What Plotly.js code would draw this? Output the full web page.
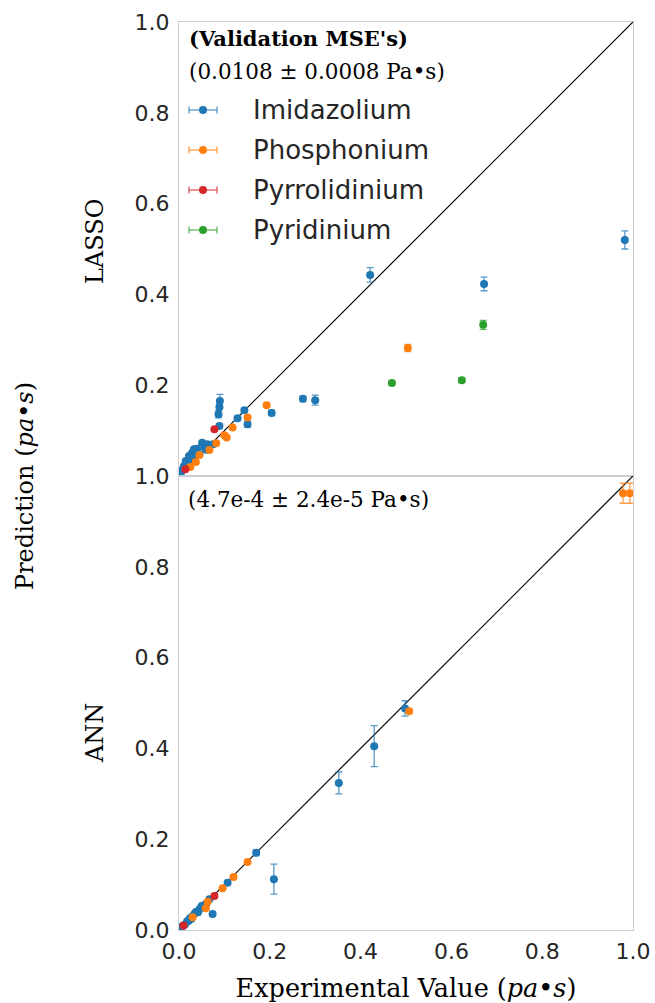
<!DOCTYPE html>
<html><head><meta charset="utf-8">
<script src="https://cdn.plot.ly/plotly-3.0.1.min.js"></script>
<style>html,body{margin:0;padding:0;background:#fff;}</style>
</head><body>
<div id="chart" style="width:655px;height:1003px;"></div>
<script>
// ---------- DATA ----------
const classNames = ["Imidazolium", "Phosphonium", "Pyrrolidinium", "Pyridinium"];
const classColors = ["#1f77b4", "#ff7f0e", "#d62728", "#2ca02c"];
const errColors = ["rgba(31,119,180,0.75)", "rgba(255,127,14,0.75)", "rgba(214,39,40,0.75)", "rgba(44,160,44,0.75)"];

// LASSO panel
const lassoImidX = [0.982, 0.672, 0.421, 0.273, 0.300, 0.204, 0.151, 0.144, 0.129, 0.090, 0.089, 0.087, 0.089,
  0.051, 0.062, 0.075, 0.057, 0.040, 0.033, 0.029, 0.022, 0.015, 0.011, 0.007, 0.004, 0.020, 0.030, 0.045, 0.060, 0.036, 0.026, 0.017];
const lassoImidY = [0.520, 0.423, 0.443, 0.170, 0.167, 0.139, 0.114, 0.145, 0.127, 0.165, 0.152, 0.136, 0.110,
  0.073, 0.070, 0.070, 0.062, 0.060, 0.059, 0.051, 0.044, 0.033, 0.022, 0.013, 0.007, 0.025, 0.035, 0.048, 0.058, 0.047, 0.040, 0.030];
const lassoImidE = [0.020, 0.015, 0.016, 0.006, 0.011, 0.006, 0.007, 0.005, 0.005, 0.015, 0.006, 0.008, 0.005,
  0.003, 0.003, 0.003, 0.003, 0.003, 0.003, 0.003, 0.002, 0.002, 0.002, 0.002, 0.002, 0.002, 0.002, 0.002, 0.003, 0.002, 0.002, 0.002];

const lassoPhosX = [0.504, 0.193, 0.151, 0.118, 0.100, 0.082, 0.067, 0.045, 0.037, 0.025, 0.105];
const lassoPhosY = [0.282, 0.156, 0.129, 0.107, 0.090, 0.072, 0.057, 0.046, 0.031, 0.020, 0.085];
const lassoPhosE = [0.008, 0.004, 0.004, 0.004, 0.004, 0.003, 0.003, 0.003, 0.003, 0.002, 0.003];

const lassoPyrrX = [0.078, 0.014];
const lassoPyrrY = [0.103, 0.015];
const lassoPyrrE = [0.004, 0.003];

const lassoPyriX = [0.469, 0.623, 0.670];
const lassoPyriY = [0.205, 0.211, 0.333];
const lassoPyriE = [0.005, 0.005, 0.010];

// ANN panel
const annImidX = [0.498, 0.430, 0.352, 0.209, 0.170, 0.107, 0.074, 0.067, 0.056, 0.046,
  0.038, 0.030, 0.024, 0.018, 0.013, 0.008, 0.004, 0.050, 0.060, 0.035, 0.027, 0.021, 0.042];
const annImidY = [0.488, 0.405, 0.324, 0.112, 0.170, 0.104, 0.035, 0.068, 0.055, 0.047,
  0.040, 0.031, 0.026, 0.019, 0.012, 0.009, 0.004, 0.053, 0.058, 0.037, 0.024, 0.020, 0.039];
const annImidE = [0.017, 0.045, 0.024, 0.033, 0.006, 0.004, 0.005, 0.004, 0.003, 0.003,
  0.002, 0.002, 0.002, 0.002, 0.002, 0.002, 0.002, 0.002, 0.003, 0.002, 0.002, 0.002, 0.002];

const annPhosX = [0.978, 0.993, 0.507, 0.151, 0.120, 0.096, 0.063, 0.059, 0.030];
const annPhosY = [0.962, 0.962, 0.482, 0.150, 0.117, 0.092, 0.062, 0.048, 0.028];
const annPhosE = [0.022, 0.022, 0.004, 0.003, 0.003, 0.003, 0.003, 0.003, 0.002];

const annPyrrX = [0.078, 0.010];
const annPyrrY = [0.075, 0.010];
const annPyrrE = [0.004, 0.002];

const identityLine = [0, 1];
const tickVals = [0, 0.2, 0.4, 0.6, 0.8, 1.0];
const tickText = ["0.0", "0.2", "0.4", "0.6", "0.8", "1.0"];

const lassoMSE = "(0.0108 ± 0.0008 Pa•s)";
const annMSE = "(4.7e-4 ± 2.4e-5 Pa•s)";

// ---------- LAYOUT HELPERS ----------
const W = 655, H = 1003;
const M = {l: 179, r: 22, t: 22, b: 73};
const PW = W - M.l - M.r, PH = H - M.t - M.b;
const px2x = p => (p - M.l) / PW;
const px2y = p => 1 - (p - M.t) / PH;

function pts(x, y, e, ci, xa, ya) {
  return {
    type: "scatter", mode: "markers", x: x, y: y, xaxis: xa, yaxis: ya,
    name: classNames[ci], showlegend: false,
    marker: {color: classColors[ci], size: 8},
    error_y: {type: "data", array: e, visible: true, color: errColors[ci], thickness: 1.3, width: 3.5}
  };
}
const diag = (xa, ya) => ({type: "scatter", mode: "lines", x: identityLine, y: identityLine,
  xaxis: xa, yaxis: ya, line: {color: "#000", width: 1.2}, showlegend: false, hoverinfo: "skip"});

const data = [
  diag("x", "y"),
  pts(lassoImidX, lassoImidY, lassoImidE, 0, "x", "y"),
  pts(lassoPhosX, lassoPhosY, lassoPhosE, 1, "x", "y"),
  pts(lassoPyrrX, lassoPyrrY, lassoPyrrE, 2, "x", "y"),
  pts(lassoPyriX, lassoPyriY, lassoPyriE, 3, "x", "y"),
  diag("x2", "y2"),
  pts(annImidX, annImidY, annImidE, 0, "x2", "y2"),
  pts(annPhosX, annPhosY, annPhosE, 1, "x2", "y2"),
  pts(annPyrrX, annPyrrY, annPyrrE, 2, "x2", "y2"),
];

const tickFont = {family: "DejaVu Sans", size: 22, color: "#262626"};
const serif = "DejaVu Serif";
const axBase = {range: [0, 1], showgrid: false, zeroline: false, ticks: "", showline: true,
  linecolor: "#cccccc", linewidth: 1, mirror: true, tickfont: tickFont, fixedrange: true};

// manual legend
const shapes = [], annotations = [];
const legRows = [110, 150, 190, 230];
legRows.forEach((py, i) => {
  const yy = px2y(py);
  const c = classColors[i], ec = errColors[i];
  shapes.push({type: "line", xref: "paper", yref: "paper", x0: px2x(189), x1: px2x(217), y0: yy, y1: yy, line: {color: ec, width: 1.3}});
  [189, 217].forEach(cx => shapes.push({type: "line", xref: "paper", yref: "paper", x0: px2x(cx), x1: px2x(cx),
    y0: px2y(py - 3.5), y1: px2y(py + 3.5), line: {color: ec, width: 1.3}}));
  shapes.push({type: "circle", xref: "paper", yref: "paper", xsizemode: "pixel", ysizemode: "pixel",
    xanchor: px2x(203), yanchor: yy, x0: -4, x1: 4, y0: -4, y1: 4, fillcolor: c, line: {width: 0}});
  annotations.push({xref: "paper", yref: "paper", x: px2x(251), y: yy, xanchor: "left", yanchor: "middle",
    text: classNames[i], showarrow: false, font: {family: "DejaVu Sans", size: 26, color: "#262626"}});
});
annotations.push({xref: "paper", yref: "paper", x: px2x(187), y: px2y(39), xanchor: "left", yanchor: "middle",
  text: "<b>(Validation MSE's)</b>", showarrow: false, font: {family: serif, size: 21, color: "#000"}});
annotations.push({xref: "paper", yref: "paper", x: px2x(187), y: px2y(72), xanchor: "left", yanchor: "middle",
  text: lassoMSE, showarrow: false, font: {family: serif, size: 21.5, color: "#000"}});
annotations.push({xref: "paper", yref: "paper", x: px2x(186), y: px2y(499), xanchor: "left", yanchor: "middle",
  text: annMSE, showarrow: false, font: {family: serif, size: 21.5, color: "#000"}});
// panel labels
annotations.push({xref: "paper", yref: "paper", x: px2x(95), y: px2y(242), xanchor: "center", yanchor: "middle",
  text: "LASSO", textangle: -90, showarrow: false, font: {family: serif, size: 24, color: "#000"}});
annotations.push({xref: "paper", yref: "paper", x: px2x(95), y: px2y(733), xanchor: "center", yanchor: "middle",
  text: "ANN", textangle: -90, showarrow: false, font: {family: serif, size: 24, color: "#000"}});
annotations.push({xref: "paper", yref: "paper", x: px2x(25), y: px2y(486), xanchor: "center", yanchor: "middle",
  text: "Prediction (<i>pa•s</i>)", textangle: -90, showarrow: false, font: {family: serif, size: 24, color: "#000"}});

const layout = {
  width: W, height: H, margin: M, paper_bgcolor: "#fff", plot_bgcolor: "#fff",
  showlegend: false,
  xaxis: Object.assign({}, axBase, {domain: [0, 1], anchor: "y", showticklabels: false, tickvals: tickVals}),
  yaxis: Object.assign({}, axBase, {domain: [0.5, 1], anchor: "x", tickvals: tickVals.slice(1), ticktext: tickText.slice(1), ticklabelstandoff: 4}),
  xaxis2: Object.assign({}, axBase, {domain: [0, 1], anchor: "y2", tickvals: tickVals, ticktext: tickText,
    ticklabelstandoff: 2,
    title: {text: "Experimental Value (<i>pa•s</i>)", font: {family: serif, size: 25.5, color: "#000"}, standoff: 16}}),
  yaxis2: Object.assign({}, axBase, {domain: [0, 0.5], anchor: "x2", tickvals: tickVals, ticktext: tickText, ticklabelstandoff: 4}),
  shapes: shapes, annotations: annotations
};

Plotly.newPlot("chart", data, layout, {displayModeBar: false, staticPlot: true});
</script>
</body></html>
